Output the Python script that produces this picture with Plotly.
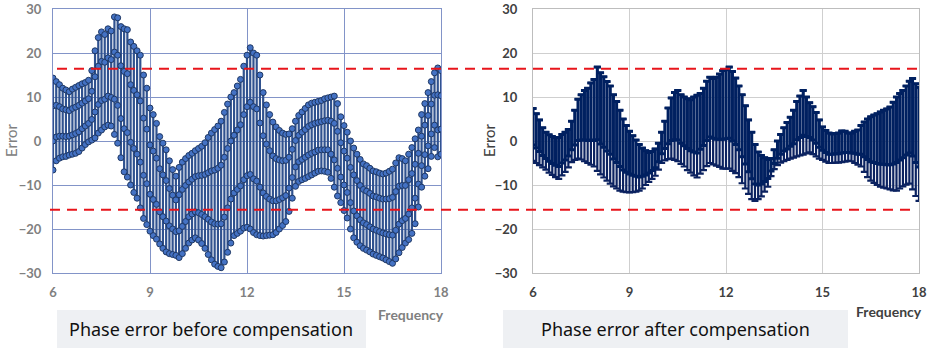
import plotly.graph_objects as go

# ---------------- data ----------------
freq = [round(6 + 0.1 * i, 1) for i in range(121)]

before_max = [14.3, 13.5, 12.8, 12.0, 11.6, 11.2, 11.8, 12.2, 12.6, 13.0,
              13.3, 13.8, 16.0, 20.5, 23.5, 24.8, 24.2, 25.5, 25.0, 28.2,
              28.0, 26.0, 25.5, 25.3, 22.5, 21.5, 20.5, 19.5, 15.0, 12.0,
              7.5, 6.0, 4.0, 1.0, -0.5, -2.0, -4.5, -6.5, -8.0, -6.0,
              -4.8, -4.0, -3.3, -2.8, -2.2, -1.7, -1.2, -0.4, 0.8, 1.8,
              2.6, 3.4, 4.5, 6.5, 8.4, 10.0, 11.0, 12.5, 14.0, 17.0,
              19.5, 21.2, 20.0, 19.5, 15.0, 11.0, 8.2, 6.0, 4.3, 3.2,
              2.4, 1.8, 1.5, 1.6, 2.8, 4.5, 5.8, 6.6, 7.4, 8.2,
              8.6, 8.8, 9.0, 9.2, 9.6, 9.8, 10.0, 10.2, 8.5, 5.5,
              3.5, 2.0, 0.0, -1.6, -3.0, -4.2, -5.2, -5.6, -6.2, -6.8,
              -7.0, -7.3, -7.5, -7.3, -6.9, -6.4, -5.0, -3.8, -4.0, -4.5,
              -3.0, -1.5, 0.5, 2.5, 6.0, 8.5, 11.0, 13.5, 15.5, 16.6,
              16.0]

before_hi = [8.0, 8.1, 7.8, 7.3, 7.1, 6.9, 7.4, 7.7, 8.1, 8.6,
             9.1, 9.6, 11.3, 14.6, 17.0, 18.1, 17.9, 18.9, 18.5, 20.2,
             19.5, 17.1, 15.8, 15.3, 12.8, 11.5, 10.5, 9.1, 5.2, 2.7,
             -0.9, -2.3, -3.9, -6.3, -7.7, -9.0, -10.8, -12.3, -13.4, -12.2,
             -11.0, -10.1, -9.3, -8.7, -8.1, -7.9, -7.8, -7.6, -7.2, -6.8,
             -6.6, -6.2, -5.5, -3.7, -1.7, 0.0, 1.3, 2.5, 3.7, 6.0,
             7.8, 8.8, 7.8, 7.3, 4.1, 1.2, -0.7, -2.2, -3.4, -4.0,
             -4.3, -4.5, -4.4, -3.7, -1.9, 0.1, 1.3, 2.0, 2.6, 3.3,
             3.7, 4.0, 4.2, 4.4, 4.6, 4.7, 4.5, 4.0, 2.2, -0.4,
             -2.3, -3.9, -6.0, -7.7, -9.0, -10.1, -11.0, -11.4, -11.9, -12.5,
             -12.7, -13.0, -13.2, -13.2, -13.1, -12.8, -11.5, -10.3, -10.1, -10.1,
             -8.8, -7.4, -5.3, -2.8, 1.1, 3.6, 5.8, 8.4, 10.4, 10.5,
             10.3]

before_lo = [0.0, 0.9, 1.1, 1.1, 1.0, 1.1, 1.4, 1.7, 2.1, 2.8,
             3.4, 4.0, 4.9, 6.6, 8.3, 9.2, 9.5, 10.2, 9.9, 9.5,
             8.1, 5.1, 2.8, 1.9, -0.3, -1.7, -3.0, -4.8, -7.8, -9.7,
             -12.1, -13.3, -14.4, -16.1, -17.2, -18.2, -19.3, -20.0, -20.6, -20.4,
             -19.4, -18.3, -17.2, -16.6, -16.1, -16.3, -16.7, -17.2, -17.8, -18.4,
             -18.8, -18.9, -18.8, -17.3, -15.2, -13.2, -11.8, -11.0, -10.2, -8.8,
             -7.9, -7.6, -8.6, -9.1, -10.5, -11.8, -12.6, -13.2, -13.6, -13.6,
             -13.3, -12.9, -12.4, -10.7, -8.3, -5.9, -4.7, -4.2, -3.7, -3.2,
             -2.8, -2.5, -2.1, -2.0, -2.0, -2.0, -3.0, -4.3, -6.2, -8.2,
             -10.0, -11.7, -14.0, -15.9, -17.0, -17.9, -18.6, -19.0, -19.5, -20.0,
             -20.3, -20.6, -20.9, -21.1, -21.3, -21.4, -20.3, -18.9, -18.1, -17.6,
             -16.6, -15.2, -13.0, -9.8, -5.6, -3.1, -1.1, 1.6, 3.6, 2.5,
             2.7]

before_min = [-6.6, -4.5, -3.9, -3.6, -3.5, -3.2, -3.0, -2.8, -2.4, -1.6,
              -0.8, -0.2, 0.2, 0.7, 1.8, 2.5, 3.2, 3.6, 3.4, 1.5,
              -0.5, -3.8, -7.0, -8.2, -10.0, -11.7, -13.0, -15.2, -17.6, -19.0,
              -20.5, -21.5, -22.3, -23.4, -24.4, -25.2, -25.6, -25.8, -26.0, -26.5,
              -25.6, -24.4, -23.2, -22.5, -22.0, -22.5, -23.3, -24.4, -25.8, -27.0,
              -28.0, -28.5, -28.8, -27.5, -25.3, -23.2, -21.5, -21.0, -20.5, -19.8,
              -19.6, -20.0, -20.8, -21.3, -21.5, -21.6, -21.5, -21.4, -21.3, -20.8,
              -20.0, -19.2, -18.3, -16.0, -13.0, -10.3, -9.2, -8.8, -8.5, -8.1,
              -7.7, -7.3, -6.9, -6.8, -6.9, -7.1, -8.5, -10.5, -12.5, -14.0,
              -15.8, -17.5, -20.0, -22.0, -23.0, -23.8, -24.4, -24.8, -25.2, -25.7,
              -26.0, -26.3, -26.6, -27.0, -27.4, -27.8, -26.8, -25.4, -24.2, -23.2,
              -22.4, -21.0, -18.8, -15.0, -10.5, -8.0, -6.3, -3.5, -1.5, -3.6,
              -3.0]

after_max = [7.4, 6.2, 4.8, 3.0, 2.0, 1.4, 1.0, 0.8, 0.8, 1.5,
             2.0, 2.6, 4.5, 7.0, 9.5, 10.5, 11.5, 12.0, 13.2, 14.0,
             16.8, 15.5, 14.6, 13.5, 12.5, 10.5, 9.0, 7.0, 5.0, 3.5,
             2.2, 1.2, 0.2, -0.8, -1.6, -2.2, -2.6, -2.4, -1.8, -0.5,
             2.0, 4.5, 7.5, 9.8, 11.0, 11.5, 10.5, 10.0, 9.6, 9.4,
             10.0, 10.4, 10.8, 12.0, 13.6, 14.5, 14.2, 14.5, 15.2, 16.0,
             16.2, 16.8, 15.8, 14.3, 12.5, 10.5, 8.0, 4.8, 2.0, -0.8,
             -2.5, -3.3, -3.8, -4.2, -4.0, -2.0, 0.0, 1.5, 3.0, 4.2,
             5.4, 7.0, 9.0, 10.2, 11.5, 10.0, 8.7, 7.8, 6.5, 4.8,
             3.2, 2.4, 1.8, 1.6, 1.7, 1.8, 2.3, 2.2, 1.8, 1.8,
             2.2, 2.5, 3.5, 4.3, 5.0, 5.5, 5.9, 6.2, 6.6, 7.0,
             7.3, 7.7, 8.8, 10.0, 10.8, 11.5, 12.5, 13.6, 14.2, 13.0,
             12.2]

after_mid = [-0.9, -1.6, -2.4, -3.3, -4.0, -4.6, -5.1, -5.5, -5.8, -5.0,
             -4.3, -3.4, -2.0, -0.9, 0.1, 0.2, 0.2, 0.1, 0.2, 0.1,
             0.3, -0.7, -1.4, -2.3, -3.0, -4.1, -4.9, -5.8, -6.6, -7.1,
             -7.5, -7.8, -8.0, -8.2, -8.0, -7.7, -7.3, -6.7, -6.1, -4.7,
             -2.9, -1.7, -0.6, 0.1, 0.3, 0.2, -0.5, -1.1, -1.7, -2.2,
             -2.5, -2.7, -1.9, -1.0, 0.1, 0.9, 0.6, 0.4, 0.4, 0.4,
             0.5, 0.6, 0.0, -0.8, -2.0, -3.6, -5.2, -7.0, -8.6, -9.8,
             -10.0, -9.8, -9.2, -8.5, -6.8, -5.1, -3.9, -3.0, -2.3, -1.8,
             -1.2, -0.6, 0.3, 0.8, 1.3, 1.0, 0.8, 0.2, -0.5, -1.4,
             -2.1, -2.6, -3.0, -3.0, -2.9, -2.9, -2.7, -2.6, -2.6, -2.7,
             -2.8, -3.0, -3.0, -3.6, -4.2, -4.7, -4.9, -5.1, -5.3, -5.3,
             -5.4, -5.4, -5.2, -4.9, -4.3, -3.8, -3.2, -2.7, -3.4, -4.9,
             -5.9]

after_min = [-4.5, -5.0, -5.5, -6.0, -6.5, -7.2, -7.7, -8.2, -8.6, -7.8,
             -7.0, -6.0, -4.8, -4.3, -4.0, -4.2, -4.6, -5.0, -5.4, -5.8,
             -6.8, -7.6, -8.3, -9.0, -9.7, -10.3, -10.8, -11.3, -11.5, -11.6,
             -11.7, -11.6, -11.5, -11.3, -10.8, -10.0, -9.3, -8.6, -7.9, -6.5,
             -5.0, -4.4, -4.1, -4.0, -4.3, -4.6, -5.2, -5.8, -6.6, -7.2,
             -7.8, -8.3, -7.4, -6.6, -5.7, -5.0, -5.3, -5.6, -5.9, -6.3,
             -6.3, -6.3, -6.8, -7.3, -8.2, -9.6, -10.8, -12.0, -13.2, -13.6,
             -13.2, -12.6, -11.5, -10.4, -8.0, -6.4, -5.5, -4.9, -4.6, -4.3,
             -4.0, -3.8, -3.5, -3.3, -3.1, -2.8, -2.6, -3.0, -3.5, -4.0,
             -4.3, -4.7, -5.0, -5.0, -4.9, -4.9, -4.8, -4.7, -4.5, -4.6,
             -5.0, -5.4, -5.8, -7.0, -8.2, -9.0, -9.5, -10.0, -10.4, -10.6,
             -10.8, -11.0, -11.2, -11.3, -10.8, -10.3, -9.9, -9.7, -11.0, -12.5,
             -13.6]

limit_upper = 16.4
limit_lower = -15.6

x_ticks = [6, 9, 12, 15, 18]
y_ticks = [-30, -20, -10, 0, 10, 20, 30]
captions = ["Phase error before compensation", "Phase error after compensation"]
x_title = "Frequency"
y_title = "Error"

# ---------------- figure ----------------
W, H = 930, 351
def fx(p):
    return p / W
def fy(p):
    return 1 - p / H

n = len(freq)
fig = go.Figure()

# before: vertical connecting lines
fig.add_trace(go.Scatter(
    x=freq, y=before_min, mode="markers",
    marker=dict(size=1, opacity=0),
    error_y=dict(type="data", symmetric=False,
                 array=[before_max[i] - before_min[i] for i in range(n)],
                 arrayminus=[0] * n, thickness=2.2, width=0, color="#30528f"),
    xaxis="x", yaxis="y", showlegend=False, hoverinfo="skip"))
# before: markers
fig.add_trace(go.Scatter(
    x=freq * 4, y=before_max + before_hi + before_lo + before_min,
    mode="markers",
    marker=dict(size=6, color="#4472c4", line=dict(color="#1f3864", width=1)),
    xaxis="x", yaxis="y", showlegend=False))

# after: full range bars with caps
fig.add_trace(go.Scatter(
    x=freq, y=after_min, mode="markers",
    marker=dict(size=1, opacity=0),
    error_y=dict(type="data", symmetric=False,
                 array=[after_max[i] - after_min[i] for i in range(n)],
                 arrayminus=[0] * n, thickness=2.2, width=3.5, color="#0b2260"),
    xaxis="x2", yaxis="y2", showlegend=False, hoverinfo="skip"))
# after: dense upper part
fig.add_trace(go.Scatter(
    x=freq, y=after_mid, mode="markers",
    marker=dict(size=1, opacity=0),
    error_y=dict(type="data", symmetric=False,
                 array=[after_max[i] - after_mid[i] for i in range(n)],
                 arrayminus=[0] * n, thickness=3, width=3.5, color="#002060"),
    xaxis="x2", yaxis="y2", showlegend=False, hoverinfo="skip"))

tick_font_l = dict(family="Lato", size=13, color="#808080", weight="bold")
tick_font_r = dict(family="Lato", size=13, color="#404040", weight="bold")

ydom = [fy(273), fy(9)]
common_x = dict(range=[6, 18], tickvals=x_ticks, showgrid=True, zeroline=False,
                showline=True, mirror=True, ticks="outside", ticklen=0,
                ticklabelstandoff=7, automargin=False)
common_y = dict(range=[-30, 30], tickvals=y_ticks, showgrid=True, zeroline=False,
                showline=True, mirror=True, ticks="outside", ticklen=0,
                automargin=False)

fig.update_layout(
    width=W, height=H, margin=dict(l=0, r=0, t=0, b=0, autoexpand=False),
    paper_bgcolor="white", plot_bgcolor="white", showlegend=False,
    xaxis=dict(domain=[fx(53), fx(441)], anchor="y", gridcolor="#8294c8",
               linecolor="#8294c8", gridwidth=1.3, linewidth=1.3,
               tickfont=tick_font_l, **common_x),
    yaxis=dict(domain=ydom, anchor="x", gridcolor="#8294c8", linecolor="#8294c8",
               gridwidth=1.3, linewidth=1.3, tickfont=tick_font_l,
               ticklabelstandoff=8, **common_y),
    xaxis2=dict(domain=[fx(533), fx(919)], anchor="y2", gridcolor="#cfcfcf",
                linecolor="#bdbdbd", gridwidth=1, linewidth=1,
                tickfont=tick_font_r, **common_x),
    yaxis2=dict(domain=ydom, anchor="x2", gridcolor="#cfcfcf", linecolor="#bdbdbd",
                gridwidth=1, linewidth=1, tickfont=tick_font_r,
                ticklabelstandoff=12, **common_y),
)

shapes = []
shapes.append(dict(type="line", xref="paper", yref="y", x0=fx(57), x1=fx(918),
                   y0=limit_upper, y1=limit_upper,
                   line=dict(color="#e8151b", width=2, dash="10px,7px"), layer="above"))
shapes.append(dict(type="line", xref="paper", yref="y", x0=fx(50), x1=fx(911),
                   y0=limit_lower, y1=limit_lower,
                   line=dict(color="#e8151b", width=2, dash="10px,7px"), layer="above"))
for (x0, x1) in [(57, 366), (503, 848)]:
    shapes.append(dict(type="rect", xref="paper", yref="paper",
                       x0=fx(x0), x1=fx(x1), y0=fy(348), y1=fy(310),
                       fillcolor="#eef0f3", line=dict(width=0), layer="below"))
fig.update_layout(shapes=shapes)

def note(text, xp, yp, font, angle=0):
    return dict(text=text, x=fx(xp), y=fy(yp), xref="paper", yref="paper",
                xanchor="center", yanchor="middle", textangle=angle,
                showarrow=False, font=font)

ann = [
    note(captions[0], 211, 329, dict(family="Noto Sans", size=18, color="#111111")),
    note(captions[1], 675, 329, dict(family="Noto Sans", size=18, color="#111111")),
    note(x_title, 411, 314, dict(family="Lato", size=14, color="#808080", weight="bold")),
    note(x_title, 889, 311, dict(family="Lato", size=14, color="#404040", weight="bold")),
    note(y_title, 11, 140, dict(family="Lato", size=15, color="#808080"), -90),
    note(y_title, 489, 140, dict(family="Lato", size=15, color="#404040"), -90),
]
fig.update_layout(annotations=ann)

fig.write_html("out.html")
